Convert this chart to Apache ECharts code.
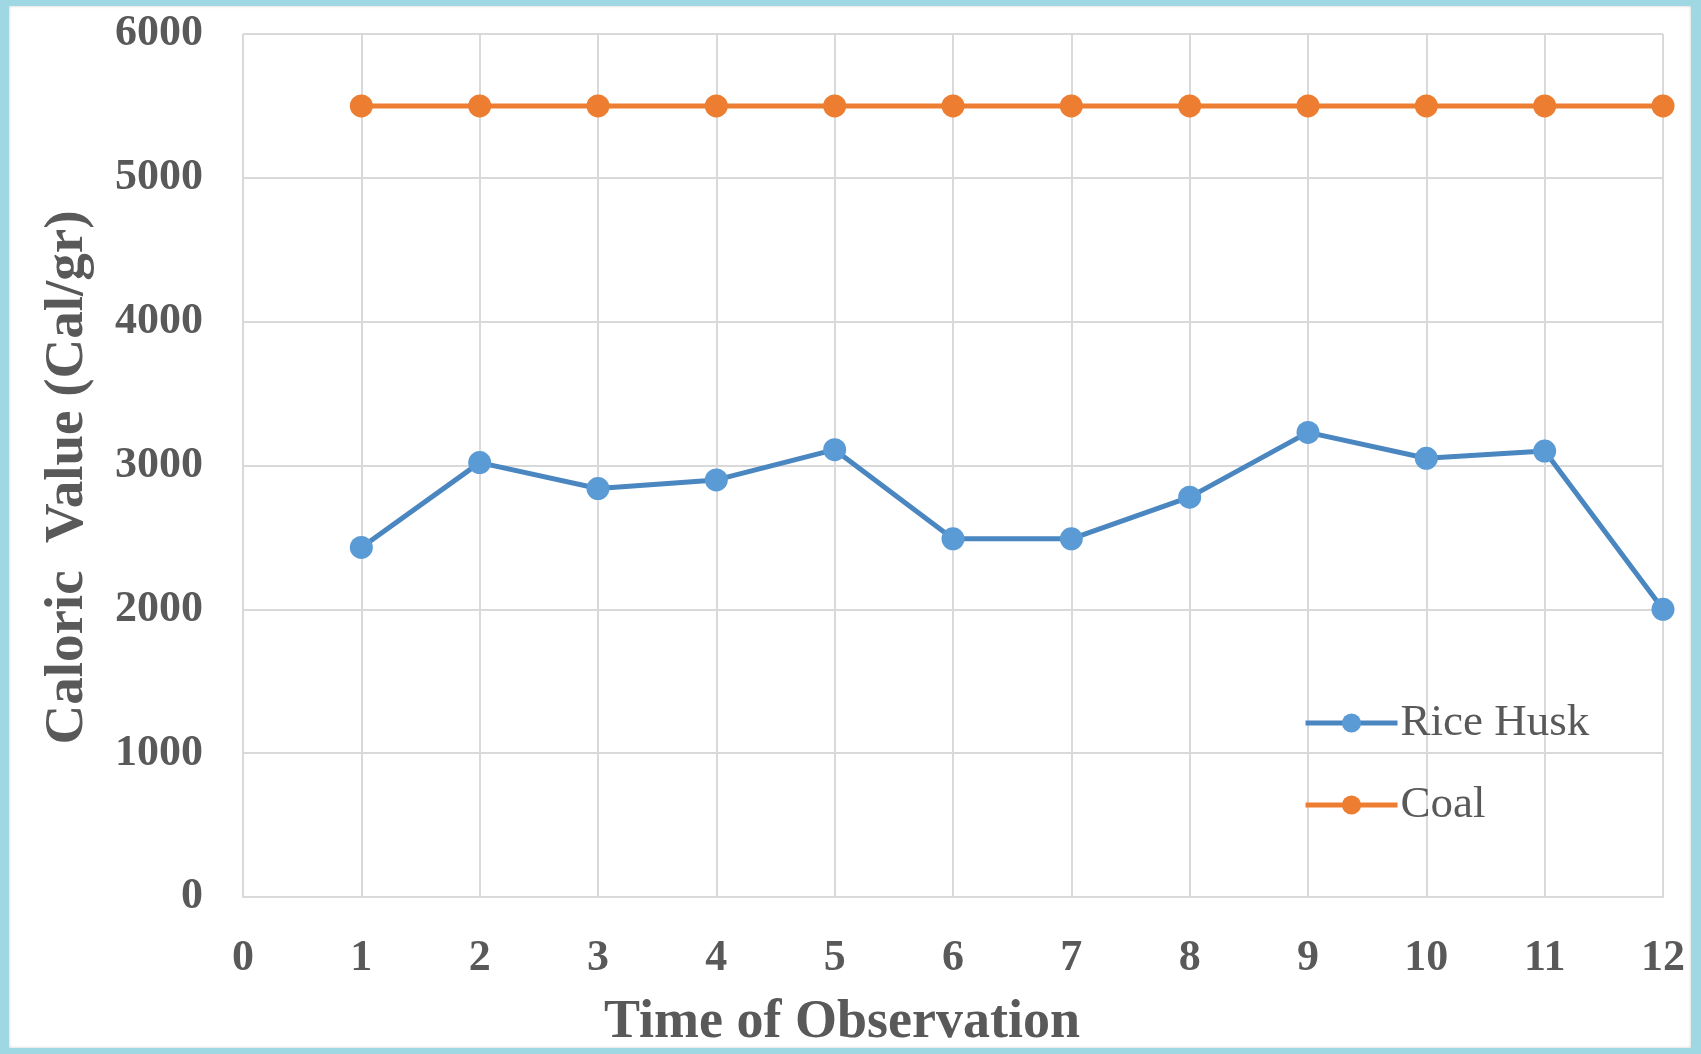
<!DOCTYPE html>
<html>
<head>
<meta charset="utf-8">
<script src="https://cdn.jsdelivr.net/npm/echarts@6/dist/echarts.min.js"></script>
<style>
    html, body { margin: 0; padding: 0; }
    body { width: 1701px; height: 1054px; background: #9fd7e2; position: relative; overflow: hidden; }
    #paper { position: absolute; left: 9px; top: 6px; right: 10px; bottom: 6px; background: #fff; box-shadow: inset 0 0 3px #c8c8c8; }
    #chart { position: absolute; left: 0; top: 0; width: 1701px; height: 1054px; }
</style>
</head>
<body>
<div id="paper"></div>
<div id="chart"></div>
<script>
// observation index and caloric values (Cal/gr)
var observations = [1, 2, 3, 4, 5, 6, 7, 8, 9, 10, 11, 12];
var riceHusk = [2430, 3020, 2840, 2900, 3110, 2490, 2490, 2780, 3230, 3050, 3100, 2000];
var coal = [5500, 5500, 5500, 5500, 5500, 5500, 5500, 5500, 5500, 5500, 5500, 5500];

(function() {
    var ink = '#595959';
    var rule = '#d9d9d9';
    var serif = '"Liberation Serif", "Times New Roman", serif';

    function pairs(vals) {
        return observations.map(function(x, i) { return [x, vals[i]]; });
    }

    var chart = echarts.init(document.getElementById('chart'), null, { renderer: 'canvas' });

    var option = {
        backgroundColor: 'transparent',
        animation: false,
        grid: { left: 243, right: 38, top: 34, bottom: 157, outerBoundsMode: 'none' },
        legend: {
            orient: 'vertical',
            left: 1298,
            top: 693,
            itemWidth: 92,
            itemHeight: 24,
            itemGap: 32,
            lineStyle: { width: 5 },
            textStyle: { fontFamily: serif, fontSize: 45, color: ink, lineHeight: 50, padding: [0, 0, 0, -2] },
            data: ['Rice Husk', 'Coal']
        },
        xAxis: {
            type: 'value',
            min: 0,
            max: 12,
            interval: 1,
            name: 'Time of Observation',
            nameLocation: 'middle',
            nameGap: 99,
            nameTextStyle: { fontFamily: serif, fontSize: 54, fontWeight: 'bold', color: ink, padding: [0, 222, 0, 0] },
            axisLine: { show: true, lineStyle: { color: rule, width: 2 } },
            axisTick: { show: false },
            axisLabel: { fontFamily: serif, fontSize: 44, fontWeight: 'bold', color: ink, margin: 40 },
            splitLine: { show: true, lineStyle: { color: rule, width: 2 } }
        },
        yAxis: {
            type: 'value',
            min: 0,
            max: 6000,
            interval: 1000,
            name: 'Caloric  Value (Cal/gr)',
            nameLocation: 'middle',
            nameGap: 148,
            nameTextStyle: { fontFamily: serif, fontSize: 55, fontWeight: 'bold', color: ink, padding: [0, 24, 0, 0] },
            axisLine: { show: false },
            axisTick: { show: false },
            axisLabel: { fontFamily: serif, fontSize: 44, fontWeight: 'bold', color: ink, margin: 40, formatter: function(v) { return String(v); } },
            splitLine: { show: true, lineStyle: { color: rule, width: 2 } }
        },
        series: [{
            name: 'Rice Husk',
            type: 'line',
            data: pairs(riceHusk),
            symbol: 'circle',
            symbolSize: 23,
            itemStyle: { color: '#5b9bd5' },
            lineStyle: { color: '#4a86c0', width: 5 }
        }, {
            name: 'Coal',
            type: 'line',
            data: pairs(coal),
            symbol: 'circle',
            symbolSize: 23,
            itemStyle: { color: '#ed7d31' },
            lineStyle: { color: '#ed7d31', width: 5 }
        }]
    };

    chart.setOption(option);
    window.addEventListener('resize', function() {
        chart.resize();
    });
})();
</script>
</body>
</html>
